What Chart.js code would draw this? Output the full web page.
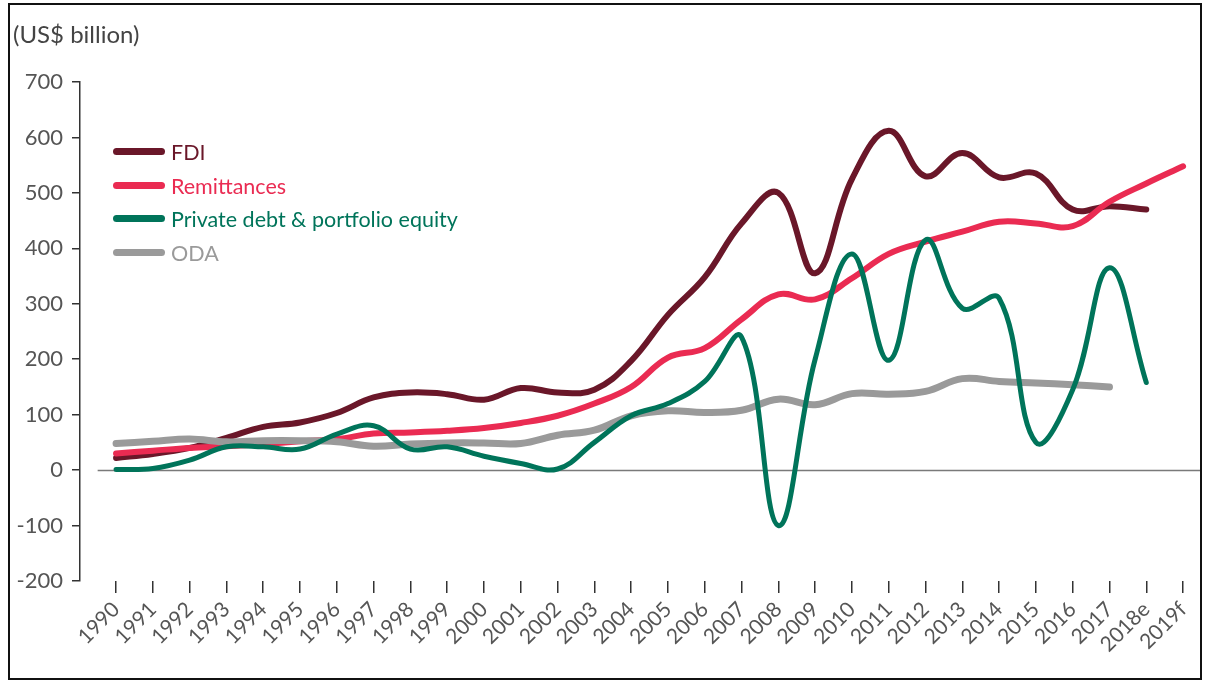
<!DOCTYPE html>
<html>
<head>
<meta charset="utf-8">
<script src="https://cdn.jsdelivr.net/npm/chart.js@4"></script>
<style>
    html, body { margin: 0; padding: 0; background: #fff; }
    #wrap { position: relative; width: 1210px; height: 684px; overflow: hidden; }
    #frame { position: absolute; left: 8px; top: 3px; width: 1194px; height: 677px; border: 2px solid #111; box-sizing: border-box; pointer-events: none; }
    #unit { position: absolute; left: 13px; top: 19px; font: 24px Lato, sans-serif; color: #444; }
    .leg { position: absolute; left: 113px; height: 26px; font: 21.5px Lato, sans-serif; white-space: nowrap; }
    .leg span.swatch { position: absolute; left: 0; top: 9px; width: 52px; height: 7px; border-radius: 4px; }
    .leg span.txt { position: absolute; left: 58px; top: 0; line-height: 26px; }
</style>
</head>
<body>
<div id="wrap">
    <canvas id="flowsChart" width="1210" height="684"></canvas>
    <div id="unit">(US$ billion)</div>
    <div id="legend"></div>
    <div id="frame"></div>
</div>
<script>
// Categories and series (US$ billion)
const years = ['1990', '1991', '1992', '1993', '1994', '1995', '1996', '1997', '1998', '1999',
    '2000', '2001', '2002', '2003', '2004', '2005', '2006', '2007', '2008', '2009',
    '2010', '2011', '2012', '2013', '2014', '2015', '2016', '2017', '2018e', '2019f'];

const fdi = [22, 29, 40, 58, 78, 86, 103, 131, 140, 137,
    127, 148, 140, 145, 197, 280, 348, 445, 500, 355,
    525, 612, 530, 572, 528, 535, 470, 476, 470, null];

const remittances = [30, 35, 40, 43, 47, 52, 56, 66, 68, 71,
    76, 85, 98, 120, 150, 203, 220, 272, 317, 308,
    346, 390, 412, 430, 448, 445, 440, 484, 517, 548];

const privateDebt = [1, 3, 18, 42, 42, 38, 65, 80, 38, 42,
    25, 12, 2, 50, 98, 120, 160, 240, -100, 200,
    390, 198, 415, 292, 310, 50, 145, 365, 158, null];

const oda = [48, 52, 56, 51, 53, 53, 51, 43, 47, 49,
    49, 48, 63, 72, 98, 107, 104, 108, 128, 118,
    138, 137, 142, 165, 160, 157, 154, 150, null, null];

const yTicks = [-200, -100, 0, 100, 200, 300, 400, 500, 600, 700];

// legend order as in the picture, drawing order handled by dataset order
const series = [
    { label: 'FDI', color: '#6a1729', data: fdi, width: 6, order: 4 },
    { label: 'Remittances', color: '#ea2b52', data: remittances, width: 6, order: 3 },
    { label: 'Private debt & portfolio equity', color: '#00745a', data: privateDebt, width: 5, order: 1 },
    { label: 'ODA', color: '#9a9a9a', data: oda, width: 7, order: 2 }
];

// html legend
const legendBox = document.getElementById('legend');
series.forEach((s, i) => {
    const row = document.createElement('div');
    row.className = 'leg';
    row.style.top = (139 + i * 33.5) + 'px';
    row.innerHTML = '<span class="swatch" style="background:' + s.color + '"></span>' +
        '<span class="txt" style="color:' + s.color + '">' + s.label + '</span>';
    legendBox.appendChild(row);
});

// thin grey line at zero
const zeroLine = {
    id: 'zeroLine',
    beforeDatasetsDraw(chart) {
        const { ctx, chartArea, scales } = chart;
        const y0 = Math.round(scales.y.getPixelForValue(0)) + 0.5;
        ctx.save();
        ctx.strokeStyle = '#7a7a7a';
        ctx.lineWidth = 1.5;
        ctx.beginPath();
        ctx.moveTo(scales.x.getPixelForValue(-0.5), y0);
        ctx.lineTo(chartArea.right, y0);
        ctx.stroke();
        ctx.restore();
    }
};

new Chart(document.getElementById('flowsChart'), {
    type: 'line',
    data: {
        datasets: series.map(s => ({
            label: s.label,
            data: s.data.map((v, i) => ({ x: i, y: v })),
            borderColor: s.color,
            backgroundColor: s.color,
            borderWidth: s.width,
            borderCapStyle: 'round',
            borderJoinStyle: 'round',
            pointRadius: 0,
            tension: 0.4,
            fill: false,
            order: s.order
        }))
    },
    options: {
        responsive: false,
        animation: false,
        devicePixelRatio: 1,
        layout: { padding: { top: 82, right: 10, left: 0, bottom: 0 } },
        plugins: {
            legend: { display: false },
            tooltip: { enabled: false }
        },
        scales: {
            x: {
                type: 'linear',
                min: -0.98,
                max: 29.46,
                afterBuildTicks: (scale) => {
                    scale.ticks = years.map((y, i) => ({ value: i }));
                },
                afterFit: (scale) => { scale.height = 103; },
                border: { display: false },
                grid: {
                    drawOnChartArea: false,
                    drawTicks: true,
                    tickLength: 12,
                    color: '#333',
                    lineWidth: 1.5
                },
                ticks: {
                    autoSkip: false,
                    minRotation: 45,
                    maxRotation: 45,
                    padding: 4,
                    color: '#555',
                    font: { family: 'Lato', size: 21 },
                    callback: (v) => years[v]
                }
            },
            y: {
                min: -200,
                max: 700,
                afterBuildTicks: (scale) => {
                    scale.ticks = yTicks.map(v => ({ value: v }));
                },
                afterFit: (scale) => { scale.width = 80; },
                border: { display: true, color: '#333', width: 1.5 },
                grid: {
                    drawOnChartArea: false,
                    drawTicks: true,
                    tickLength: 8,
                    color: '#333',
                    lineWidth: 1.5
                },
                ticks: {
                    padding: 9,
                    color: '#555',
                    font: { family: 'Lato', size: 22 }
                }
            }
        }
    },
    plugins: [zeroLine]
});
</script>
</body>
</html>
